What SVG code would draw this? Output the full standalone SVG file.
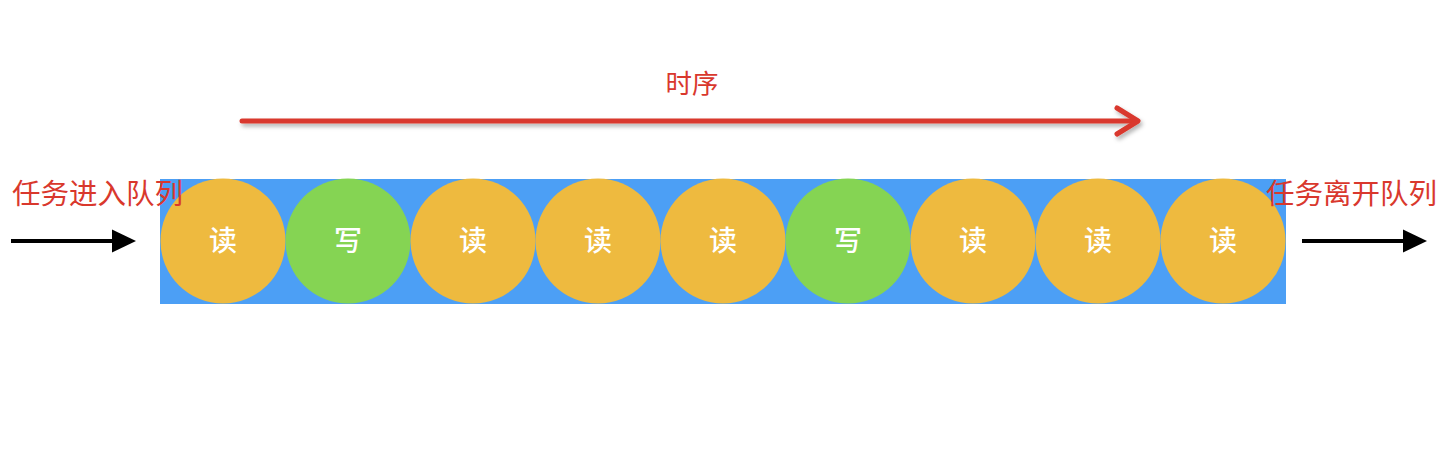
<svg xmlns="http://www.w3.org/2000/svg" width="1450" height="466" viewBox="0 0 1450 466">
<style>
.lbl{font-family:"Liberation Sans","Noto Sans CJK SC",sans-serif;fill:#D9382D;font-weight:400;}
.ct{font-family:"Liberation Sans","Noto Sans CJK SC",sans-serif;fill:#ffffff;font-size:28px;font-weight:500;text-anchor:middle;dominant-baseline:central;}
.r{fill:#EEBA3F;}
.w{fill:#85D453;}
.bk{stroke:#000;stroke-width:4;}
.hd{fill:#000;}
</style>
<defs>
<filter id="sh" x="-5%" y="-50%" width="110%" height="200%"><feDropShadow dx="2" dy="3" stdDeviation="2" flood-color="#000" flood-opacity="0.3"/></filter>
</defs>
<rect width="1450" height="466" fill="#ffffff"/>
<g id="queue">
<rect x="160" y="179" width="1126" height="125" fill="#4C9FF5"/>
</g>
<g id="n1"><circle class="r" cx="223" cy="241" r="62.5"/><text class="ct" x="223" y="241">读</text></g>
<g id="n2"><circle class="w" cx="348" cy="241" r="62.5"/><text class="ct" x="348" y="241">写</text></g>
<g id="n3"><circle class="r" cx="473" cy="241" r="62.5"/><text class="ct" x="473" y="241">读</text></g>
<g id="n4"><circle class="r" cx="598" cy="241" r="62.5"/><text class="ct" x="598" y="241">读</text></g>
<g id="n5"><circle class="r" cx="723" cy="241" r="62.5"/><text class="ct" x="723" y="241">读</text></g>
<g id="n6"><circle class="w" cx="848" cy="241" r="62.5"/><text class="ct" x="848" y="241">写</text></g>
<g id="n7"><circle class="r" cx="973" cy="241" r="62.5"/><text class="ct" x="973" y="241">读</text></g>
<g id="n8"><circle class="r" cx="1098" cy="241" r="62.5"/><text class="ct" x="1098" y="241">读</text></g>
<g id="n9"><circle class="r" cx="1223" cy="241" r="62.5"/><text class="ct" x="1223" y="241">读</text></g>
<g id="labels">
<text class="lbl" x="692" y="93" font-size="26.5" text-anchor="middle">时序</text>
<text class="lbl" x="12" y="204" font-size="28.5">任务进入队列</text>
<text class="lbl" x="1266" y="204" font-size="28.5">任务离开队列</text>
</g>
<g id="connectors">
<g filter="url(#sh)" stroke="#D9382D" stroke-width="5" stroke-linecap="round" stroke-linejoin="round" fill="none">
<line x1="242" y1="121" x2="1137" y2="121"/>
<polyline points="1117,108 1138,121 1117,134"/>
</g>
<line class="bk" x1="11" y1="241" x2="114" y2="241"/>
<path class="hd" d="M112,229.5 L136,241 L112,252.5 Z"/>
<line class="bk" x1="1302" y1="241" x2="1405" y2="241"/>
<path class="hd" d="M1403,229.5 L1427,241 L1403,252.5 Z"/>
</g>
</svg>
